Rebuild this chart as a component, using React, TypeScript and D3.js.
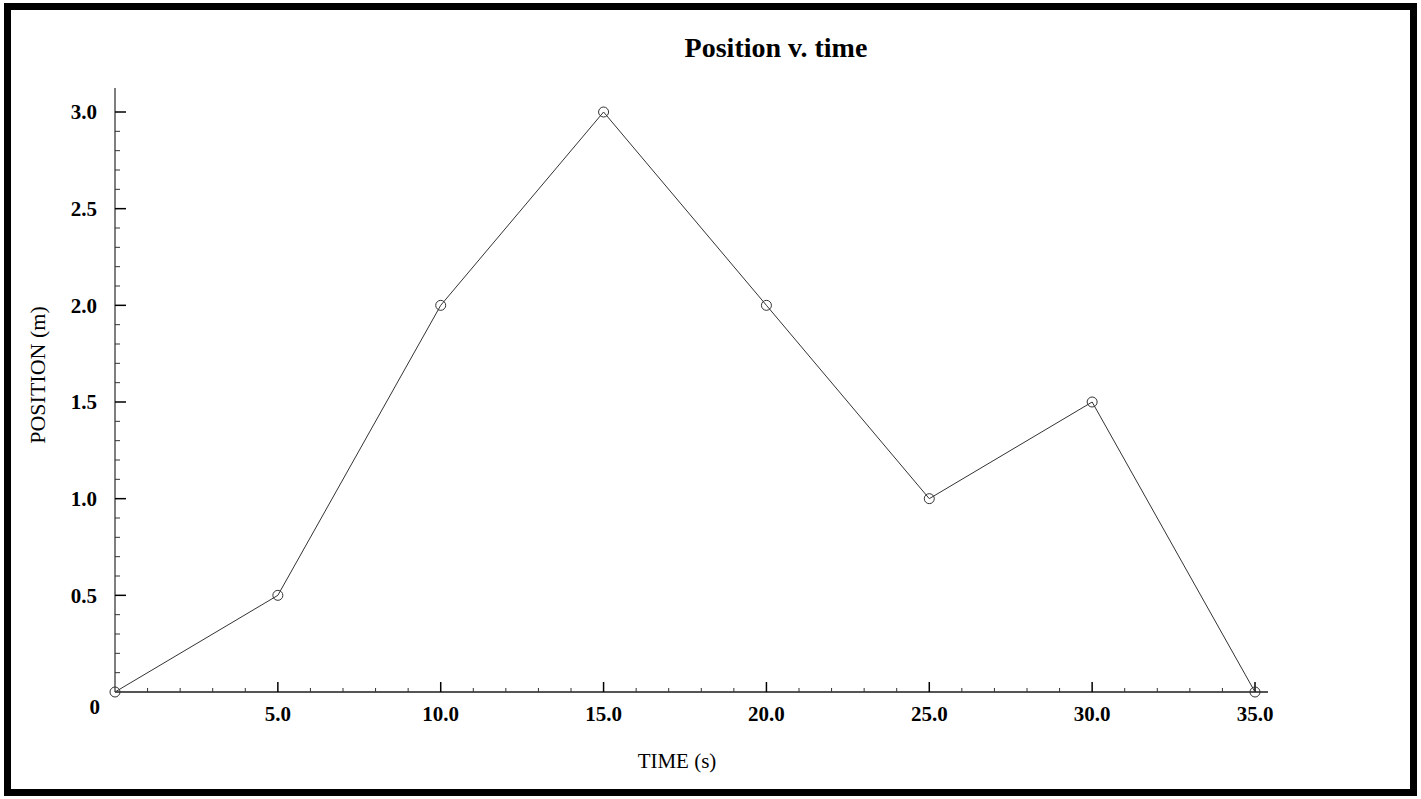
import React from 'react'
import * as d3 from 'd3'

const times = [0, 5, 10, 15, 20, 25, 30, 35]
const positions = [0, 0.5, 2, 3, 2, 1, 1.5, 0]
const xTicks = [5, 10, 15, 20, 25, 30, 35]
const xTickLabels = ['5.0', '10.0', '15.0', '20.0', '25.0', '30.0', '35.0']
const yTicks = [0.5, 1, 1.5, 2, 2.5, 3]
const yTickLabels = ['0.5', '1.0', '1.5', '2.0', '2.5', '3.0']

const W = 1421
const H = 799
const FONT = '"Liberation Serif", "Times New Roman", serif'

export default function App() {
  const x = d3.scaleLinear().domain([0, 35]).range([115, 1255])
  const y = d3.scaleLinear().domain([0, 3]).range([692, 112])

  const xMinor = d3.range(1, 35).filter((d) => d % 5 !== 0)
  const yMinor = d3.range(1, 30).filter((d) => d % 5 !== 0).map((d) => d / 10)

  const pts = times.map((t, i) => ({ t, p: positions[i] }))
  const line = d3
    .line<{ t: number; p: number }>()
    .x((d) => x(d.t))
    .y((d) => y(d.p))

  const axisColor = '#555'

  return (
    <svg
      width={W}
      height={H}
      style={{ position: 'absolute', left: 0, top: 0, background: '#fff' }}
      fontFamily={FONT}
    >
      <rect x={7.5} y={6.5} width={1406} height={786} fill="#fff" stroke="#000" strokeWidth={7} />

      <text x={776} y={57} textAnchor="middle" fontSize={28} fontWeight="bold">
        Position v. time
      </text>

      {/* axes */}
      <line x1={x(0)} x2={1268} y1={y(0)} y2={y(0)} stroke={axisColor} strokeWidth={2} />
      <line x1={x(0)} x2={x(0)} y1={y(0)} y2={88} stroke={axisColor} strokeWidth={1.5} />

      {xMinor.map((d) => (
        <line key={'xm' + d} x1={x(d)} x2={x(d)} y1={y(0)} y2={y(0) - 4} stroke="#333" strokeWidth={1} />
      ))}
      {xTicks.map((d, i) => (
        <g key={'x' + d}>
          <line x1={x(d)} x2={x(d)} y1={y(0)} y2={y(0) - 10} stroke="#000" strokeWidth={1.5} />
          <text x={x(d)} y={721} textAnchor="middle" fontSize={21} fontWeight="bold">
            {xTickLabels[i]}
          </text>
        </g>
      ))}

      {yMinor.map((d) => (
        <line key={'ym' + d} x1={x(0)} x2={x(0) + 5} y1={y(d)} y2={y(d)} stroke="#333" strokeWidth={1} />
      ))}
      {yTicks.map((d, i) => (
        <g key={'y' + d}>
          <line x1={x(0)} x2={x(0) + 11} y1={y(d)} y2={y(d)} stroke="#000" strokeWidth={1.5} />
          <text x={97} y={y(d)} dy="0.35em" textAnchor="end" fontSize={21} fontWeight="bold">
            {yTickLabels[i]}
          </text>
        </g>
      ))}
      <text x={100} y={707} dy="0.35em" textAnchor="end" fontSize={21} fontWeight="bold">
        0
      </text>

      <text x={677} y={768} textAnchor="middle" fontSize={21}>
        TIME (s)
      </text>
      <text
        transform={`translate(45,375) rotate(-90)`}
        textAnchor="middle"
        fontSize={22}
      >
        POSITION (m)
      </text>

      <path d={line(pts) || ''} fill="none" stroke="#333" strokeWidth={1} />
      {pts.map((d) => (
        <circle key={'c' + d.t} cx={x(d.t)} cy={y(d.p)} r={5} fill="none" stroke="#333" strokeWidth={1} />
      ))}
    </svg>
  )
}
